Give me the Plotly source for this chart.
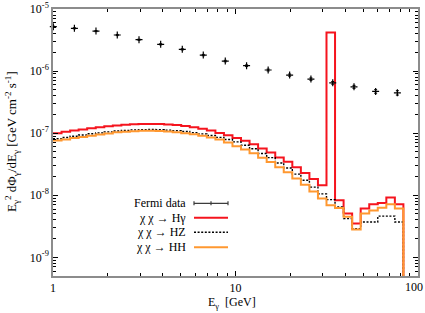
import plotly.graph_objects as go
import math

# ---------------- data ----------------
fermi_E = [1.004, 1.31, 1.72, 2.25, 2.96, 3.89, 5.11, 6.66, 8.79, 11.5, 15.1, 19.8,
           25.9, 34.1, 44.6, 58.6, 77.1]
fermi_flux = [5.19e-6, 4.89e-6, 4.41e-6, 3.81e-6, 3.20e-6, 2.70e-6, 2.24e-6, 1.81e-6,
              1.45e-6, 1.22e-6, 1.04e-6, 8.61e-7, 7.43e-7, 6.47e-7, 5.58e-7, 4.71e-7, 4.47e-7]
fermi_err = [1.0e-7, 1.0e-7, 9e-8, 8e-8, 6.5e-8, 5.5e-8, 5e-8, 4.5e-8, 4e-8, 3.7e-8,
             3.6e-8, 3.4e-8, 3.3e-8, 3.2e-8, 3.1e-8, 3.1e-8, 3.6e-8]

bin_edges = [1.000, 1.114, 1.241, 1.382, 1.539, 1.715, 1.910, 2.127, 2.369, 2.639,
             2.940, 3.275, 3.648, 4.063, 4.525, 5.041, 5.615, 6.254, 6.966, 7.760,
             8.643, 9.625, 10.72, 11.94, 13.30, 14.82, 16.51, 18.38, 20.48, 22.81,
             25.41, 28.30, 31.52, 35.11, 39.11, 43.56, 48.52, 54.05, 60.20, 67.06,
             74.69, 83.18]

flux_Hgamma = [1.00e-7, 1.05e-7, 1.10e-7, 1.15e-7, 1.20e-7, 1.245e-7, 1.29e-7, 1.33e-7,
               1.365e-7, 1.39e-7, 1.405e-7, 1.41e-7, 1.40e-7, 1.38e-7, 1.35e-7, 1.30e-7,
               1.245e-7, 1.175e-7, 1.10e-7, 1.01e-7, 9.23e-8, 8.39e-8, 7.52e-8, 6.65e-8,
               5.66e-8, 4.90e-8, 4.07e-8, 3.47e-8, 2.82e-8, 2.29e-8, 1.82e-8, 1.445e-8,
               4.2e-6, 8.3e-9, 5.07e-9, 3.5e-9, 6.1e-9, 7.16e-9, 7.5e-9, 9.2e-9, 7.16e-9]

flux_HZ = [8.13e-8, 8.51e-8, 8.91e-8, 9.33e-8, 9.77e-8, 1.01e-7, 1.05e-7, 1.085e-7,
           1.11e-7, 1.13e-7, 1.14e-7, 1.145e-7, 1.14e-7, 1.12e-7, 1.10e-7, 1.065e-7,
           1.02e-7, 9.72e-8, 9.16e-8, 8.55e-8, 7.89e-8, 7.23e-8, 6.40e-8, 5.60e-8,
           4.71e-8, 4.03e-8, 3.31e-8, 2.75e-8, 2.19e-8, 1.74e-8, 1.35e-8, 1.05e-8,
           8.5e-9, 6.5e-9, 4.2e-9, 2.9e-9, 3.7e-9, 3.7e-9, 4.6e-9, 4.6e-9, 3.7e-9]

flux_HH = [7.59e-8, 7.94e-8, 8.32e-8, 8.71e-8, 9.12e-8, 9.51e-8, 9.89e-8, 1.03e-7,
           1.057e-7, 1.076e-7, 1.089e-7, 1.09e-7, 1.086e-7, 1.066e-7, 1.037e-7, 1.00e-7,
           9.59e-8, 9.08e-8, 8.51e-8, 7.89e-8, 7.08e-8, 6.17e-8, 5.45e-8, 4.76e-8,
           4.01e-8, 3.43e-8, 2.82e-8, 2.34e-8, 1.86e-8, 1.48e-8, 1.15e-8, 8.9e-9,
           6.9e-9, 6.2e-9, 4.5e-9, 2.8e-9, 5.1e-9, 5.7e-9, 6.3e-9, 7.16e-9, 6.1e-9]

x_major = [1, 10, 100]
x_major_text = ["1", "10", ""]      # "100" drawn as annotation so it stays inside
x_last_label = "100"
y_major = [1e-9, 1e-8, 1e-7, 1e-6, 1e-5]
y_major_text = ["10<sup>-9</sup>", "10<sup>-8</sup>", "10<sup>-7</sup>",
                "10<sup>-6</sup>", "10<sup>-5</sup>"]
legend_labels = ["Fermi data", "\u03c7 \u03c7 \u2192 H\u03b3", "\u03c7 \u03c7 \u2192 HZ",
                 "\u03c7 \u03c7 \u2192 HH"]
x_title = "E<sub>\u03b3</sub>  [GeV]"
y_title = ("E<sub>\u03b3</sub><sup>2</sup> d\u03a6<sub>\u03b3</sub>/dE<sub>\u03b3</sub>"
           " [GeV cm<sup>-2</sup> s<sup>-1</sup>]")

# ---------------- styling ----------------
RED = "rgb(245,20,30)"
ORANGE = "rgb(255,152,48)"
AXIS = "rgb(140,140,140)"
FONT = "Liberation Serif"
Y_FLOOR = 1e-12  # histogram closes down to below the axis


def step_xy(vals):
    xs = list(bin_edges) + [bin_edges[-1]]
    ys = list(vals) + [vals[-1], Y_FLOOR]
    return xs, ys


fig = go.Figure()

for vals, col, dash, w in [(flux_Hgamma, RED, "solid", 2),
                           (flux_HZ, "black", "2px,1.6px", 1.4),
                           (flux_HH, ORANGE, "solid", 2)]:
    xs, ys = step_xy(vals)
    fig.add_trace(go.Scatter(x=xs, y=ys, mode="lines", line_shape="hv",
                             line=dict(color=col, width=w, dash=dash),
                             showlegend=False, hoverinfo="skip"))

fig.add_trace(go.Scatter(
    x=fermi_E, y=fermi_flux, mode="markers",
    marker=dict(symbol="cross-thin", size=5, line=dict(color="black", width=1.2)),
    error_y=dict(type="data", array=fermi_err, visible=True, color="black",
                 thickness=1, width=1.5),
    cliponaxis=False, showlegend=False))

x_minor = [m * d for d in (1, 10) for m in range(2, 10)]
y_minor = [m * 10 ** e for e in (-10, -9, -8, -7, -6) for m in range(2, 10)
           if 5e-10 <= m * 10 ** e < 1e-5]

common = dict(ticks="inside", ticklen=5, tickwidth=1, tickcolor="black",
              showline=True, linecolor=AXIS, linewidth=1.5, mirror="ticks",
              showgrid=False, zeroline=False, automargin=False,
              ticklabeloverflow="allow",
              tickfont=dict(family=FONT, size=12, color="black"))

fig.update_xaxes(type="log", range=[0, 2], tickmode="array", tickvals=x_major,
                 ticktext=x_major_text,
                 minor=dict(tickmode="array", tickvals=x_minor, ticks="inside",
                            ticklen=3, tickcolor="black", showgrid=False),
                 **common)
fig.update_yaxes(type="log", range=[math.log10(5e-10), -5], tickmode="array",
                 tickvals=y_major, ticktext=y_major_text,
                 minor=dict(tickmode="array", tickvals=y_minor, ticks="inside",
                            ticklen=3, tickcolor="black", showgrid=False),
                 **common)

PW, PH = 365.0, 267.0
def px(xp):
    return (xp - 53) / PW
def py(yp):
    return (276 - yp) / PH

fig.add_annotation(x=px(425), y=py(287), xref="paper", yref="paper", text=x_last_label,
                   showarrow=False, xanchor="right", yanchor="middle",
                   font=dict(family=FONT, size=12, color="black"))

# axis titles
fig.add_annotation(x=px(232), y=py(303), xref="paper", yref="paper", text=x_title,
                   showarrow=False, xanchor="center", yanchor="middle",
                   font=dict(family=FONT, size=12, color="black"))
fig.add_annotation(x=px(12), y=py(142), xref="paper", yref="paper", text=y_title,
                   showarrow=False, textangle=-90, xanchor="center", yanchor="middle",
                   font=dict(family=FONT, size=13, color="black"))

# ---------------- custom legend (gnuplot style: text right, sample left) ----
rows = [203.3, 217.7, 232.3, 247.3]
for lab, yr in zip(legend_labels, rows):
    fig.add_annotation(x=px(188), y=py(yr), xref="paper", yref="paper", text=lab,
                       showarrow=False, xanchor="right", yanchor="middle",
                       font=dict(family=FONT, size=12, color="black"))

x0, x1 = px(194), px(228)
fig.add_shape(type="line", xref="paper", yref="paper", x0=x0, x1=x1, y0=py(rows[0]),
              y1=py(rows[0]), line=dict(color="rgb(60,60,60)", width=1.3))
for xt in (194, 211, 228):
    fig.add_shape(type="line", xref="paper", yref="paper", x0=px(xt), x1=px(xt),
                  y0=py(rows[0] - 2), y1=py(rows[0] + 2),
                  line=dict(color="rgb(60,60,60)", width=1.2))
fig.add_shape(type="line", xref="paper", yref="paper", x0=x0, x1=x1, y0=py(rows[1]),
              y1=py(rows[1]), line=dict(color=RED, width=2))
fig.add_shape(type="line", xref="paper", yref="paper", x0=x0, x1=x1, y0=py(rows[2]),
              y1=py(rows[2]), line=dict(color="black", width=1.4, dash="2px,1.6px"))
fig.add_shape(type="line", xref="paper", yref="paper", x0=x0, x1=x1, y0=py(rows[3]),
              y1=py(rows[3]), line=dict(color=ORANGE, width=2))

fig.update_layout(width=425, height=313, margin=dict(l=53, r=7, t=9, b=37),
                  paper_bgcolor="white", plot_bgcolor="white",
                  font=dict(family=FONT, size=12, color="black"), showlegend=False)

fig.write_html("out.html", config={"displayModeBar": False},
               post_script="document.body.style.margin='0';"
                           "document.body.style.overflow='hidden';")
